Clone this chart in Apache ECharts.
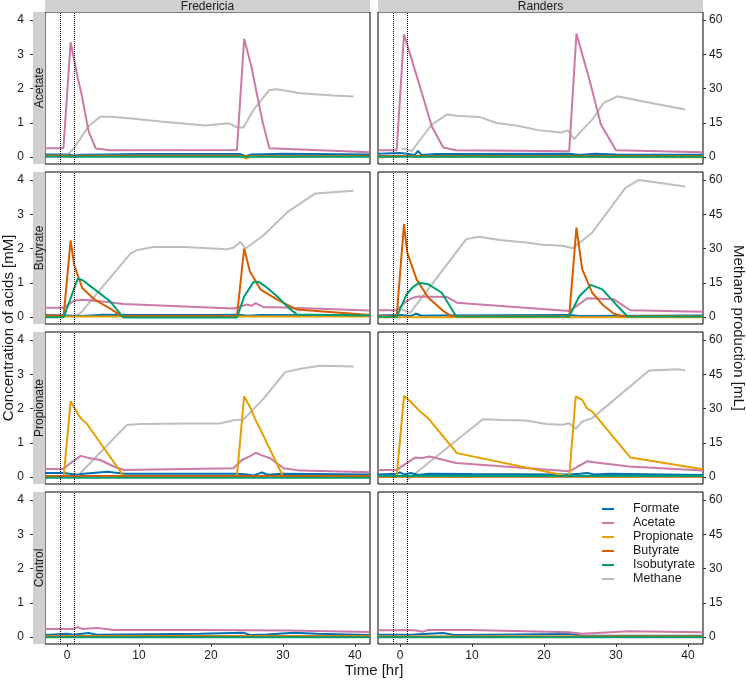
<!DOCTYPE html>
<html><head><meta charset="utf-8">
<script src="https://cdn.jsdelivr.net/npm/echarts@6/dist/echarts.min.js"></script>
<style>html,body{margin:0;padding:0;background:#fff}#c{width:746px;height:680px}</style>
</head><body><div id="c"></div><script>
// ---------- categories & ticks ----------
const sites = ['Fredericia', 'Randers'];
const treatments = ['Acetate', 'Butyrate', 'Propionate', 'Control'];
const seriesNames = ['Formate', 'Acetate', 'Propionate', 'Butyrate', 'Isobutyrate', 'Methane'];
const acidTicks = [0, 1, 2, 3, 4];
const methaneTicks = [0, 15, 30, 45, 60];
const timeTicks = [0, 10, 20, 30, 40];
const pulseTimes = [-1, 1];

// ---------- Fredericia / Acetate ----------
const FA_formate = [[-3.06,0.08],[0,0.08],[1,0.05],[2,0.07],[5,0.08],[10,0.09],[20,0.09],[24,0.09],[24.8,0.03],[25.6,0.08],[30,0.1],[42.08,0.08]];
const FA_acetate = [[-3.06,0.26],[-0.5,0.26],[0.5,3.35],[1.5,2.3],[2,1.85],[3,0.75],[4,0.25],[6,0.2],[23.6,0.21],[24.6,3.45],[25.6,2.65],[26.5,1.7],[27.2,1.0],[28.1,0.26],[42.08,0.14]];
const FA_propionate = [[-3.06,0.04],[0,0.05],[1,0.01],[2,0.04],[24,0.04],[24.9,-0.04],[25.6,0.03],[42.08,0.03]];
const FA_butyrate = [[-3.06,0.03],[10,0.03],[24,0.03],[30,0.02],[42.08,0.03]];
const FA_isobutyrate = [[-3.06,0.01],[42.08,0.01]];
const FA_methane = [[0.2,1.5],[1,3.9],[1.4,6],[3,13.5],[4.6,17.7],[6,17.7],[9.3,16.8],[13,15.6],[19.2,13.8],[22.5,14.8],[23.6,13],[24.5,13],[25.9,20.7],[28.1,29.4],[29.2,29.7],[32.4,27.9],[37,27],[39.8,26.5]];

// ---------- Randers / Acetate ----------
const RA_formate = [[-3.06,0.1],[0,0.12],[1,0.1],[2,0.06],[2.5,0.18],[3,0.06],[5,0.09],[23.5,0.1],[25,0.06],[27,0.1],[30,0.08],[42.08,0.07]];
const RA_acetate = [[-3.06,0.2],[-0.46,0.2],[0.55,3.58],[2.7,2.1],[4.4,0.9],[6,0.28],[7.8,0.2],[23.5,0.17],[24.5,3.6],[26.3,2.26],[27.9,0.95],[30,0.2],[42.08,0.14]];
const RA_propionate = [[-3.06,0.0],[0,0.01],[1,0.04],[2,0.01],[42.08,0.0]];
const RA_butyrate = [[-3.06,0.03],[42.08,0.03]];
const RA_isobutyrate = [[-3.06,0.01],[42.08,0.01]];
const RA_methane = [[0.2,3.5],[0.9,3.5],[1.6,2.5],[2.8,7.6],[4.4,14.2],[6.5,18.6],[7.8,18.1],[11,17.6],[13.4,14.9],[16.1,13.8],[19.4,11.7],[22.4,10.8],[23.3,11.7],[24.2,7.9],[24.9,10.5],[26.7,16.4],[28.3,23.7],[30.2,26.6],[33.6,24.4],[39.6,20.8]];

// ---------- Fredericia / Butyrate ----------
const FB_formate = [[-3.06,0.06],[0,0.05],[2,0.03],[5,0.07],[10,0.06],[20,0.06],[24,0.07],[25,0.04],[27,0.06],[42.08,0.05]];
const FB_acetate = [[-3.06,0.27],[-0.5,0.27],[1,0.48],[2.1,0.51],[4.6,0.46],[7.9,0.38],[23.1,0.25],[25,0.37],[25.6,0.33],[26.2,0.41],[27.3,0.29],[29,0.29],[42.08,0.19]];
const FB_propionate = [[-3.06,0.02],[20,0.02],[42.08,0.02]];
const FB_butyrate = [[-3.06,0.05],[-0.46,0.05],[0.5,2.24],[1.0,1.52],[2.1,0.85],[3.9,0.5],[6,0.25],[7.6,0.03],[23.6,0.03],[24.6,2.0],[25.4,1.33],[26.9,0.8],[29.2,0.51],[31.9,0.22],[42.08,0.06]];
const FB_isobutyrate = [[-3.06,0.0],[-0.46,0.0],[1.5,1.13],[2.3,1.06],[3.0,0.94],[4.2,0.75],[6,0.46],[7.8,-0.01],[23.6,-0.01],[24.6,0.6],[25.9,1.02],[26.6,1.03],[27.8,0.86],[29.2,0.6],[30.8,0.27],[31.9,0.08],[42.08,0.05]];
const FB_methane = [[0.2,0.5],[0.9,0],[1.9,1.9],[8.8,27.8],[9.7,29.3],[12,30.7],[16.2,30.7],[22.2,29.7],[23.1,30.3],[24.1,32.9],[24.8,30],[27.3,35.8],[30.6,45.9],[34.5,54.1],[39.8,55.2]];

// ---------- Randers / Butyrate ----------
const RB_formate = [[-3.06,0.05],[0,0.06],[1.5,0.03],[2.2,0.1],[3,0.04],[5,0.05],[23.5,0.06],[25,0.03],[42.08,0.05]];
const RB_acetate = [[-3.06,0.2],[-0.46,0.2],[0.9,0.47],[1.6,0.55],[2.5,0.6],[6.5,0.59],[7.9,0.42],[23.5,0.18],[24.7,0.35],[26,0.55],[29.7,0.52],[32,0.2],[42.08,0.16]];
const RB_propionate = [[-3.06,0.0],[42.08,0.0]];
const RB_butyrate = [[-3.06,0.03],[-0.46,0.03],[0.55,2.71],[1.0,1.88],[2.3,1.1],[3.9,0.57],[6,0.18],[7.1,0.03],[23.5,0.03],[24.5,2.61],[25.3,1.4],[26.7,0.71],[28.1,0.37],[29.7,0.1],[30.9,0.03],[42.08,0.03]];
const RB_isobutyrate = [[-3.06,0.01],[-0.46,0.01],[0.9,0.66],[1.8,0.88],[2.7,1.0],[3.9,0.96],[5.8,0.71],[7.8,0.02],[23.5,0.02],[24.9,0.61],[26.5,0.94],[28.1,0.81],[30,0.37],[31.6,0.02],[42.08,0.02]];
const RB_methane = [[0.2,3.4],[0.9,2.6],[1.4,1.9],[9.2,34.1],[11,35.1],[13.8,33.7],[17.5,32.6],[19.8,31.6],[22.6,31.2],[24,30.1],[26.7,37],[31.3,56.5],[33.2,60],[39.6,57.1]];

// ---------- Fredericia / Propionate ----------
const FP_formate = [[-3.06,0.12],[-0.5,0.12],[1.4,0.07],[2.3,0.1],[5.6,0.16],[8,0.1],[23.6,0.1],[25,0.08],[25.9,0.05],[27.1,0.14],[27.8,0.07],[29.7,0.1],[42.08,0.08]];
const FP_acetate = [[-3.06,0.24],[-0.5,0.24],[0.5,0.41],[1.9,0.62],[3.2,0.55],[4.6,0.5],[6.5,0.31],[7.9,0.21],[23.1,0.26],[24.3,0.5],[25.5,0.62],[26.2,0.71],[26.9,0.65],[28.2,0.55],[30.1,0.26],[32.4,0.19],[42.08,0.14]];
const FP_propionate = [[-3.06,0.02],[-0.46,0.02],[0.5,2.21],[1.6,1.81],[2.2,1.65],[2.7,1.57],[7.9,0.02],[23.6,0.02],[24.6,2.36],[25.4,2.05],[26.2,1.66],[26.9,1.37],[30,0.02],[42.08,0.02]];
const FP_butyrate = [[-3.06,0.03],[42.08,0.03]];
const FP_isobutyrate = [[-3.06,-0.02],[42.08,-0.02]];
const FP_methane = [[1.4,0.3],[8.3,22.8],[10.2,23.2],[16.7,23.5],[21.3,23.5],[23.1,24.9],[24.5,25.2],[27.3,34.3],[30.3,45.9],[32.4,47.4],[35.2,48.7],[39.8,48.4]];

// ---------- Randers / Propionate ----------
const RP_formate = [[-3.06,0.08],[-0.5,0.1],[0,0.14],[0.5,0.08],[1.5,0.12],[2.5,0.06],[4,0.1],[10,0.09],[23.5,0.08],[25,0.1],[26,0.12],[27,0.08],[29,0.1],[42.08,0.06]];
const RP_acetate = [[-3.06,0.21],[-0.46,0.21],[0.9,0.41],[2.1,0.57],[3,0.55],[4.1,0.6],[7.8,0.41],[23.5,0.17],[24.7,0.31],[26,0.46],[27.2,0.43],[31.8,0.31],[42.08,0.19]];
const RP_propionate = [[-3.06,0.02],[-0.46,0.02],[0.55,2.37],[1.6,2.17],[2.8,1.91],[3.9,1.72],[7.9,0.7],[23.5,0.02],[24.4,2.35],[25.3,2.25],[26,2.0],[26.7,1.91],[32,0.57],[42.08,0.23]];
const RP_butyrate = [[-3.06,0.01],[42.08,0.01]];
const RP_isobutyrate = [[-3.06,0.03],[42.08,0.03]];
const RP_methane = [[0.9,-1.5],[11.5,25.3],[14.3,25],[17.5,24.8],[20.3,23.2],[22.6,22.9],[23.5,23.6],[24.4,21.1],[25.3,24.3],[26.7,25.8],[34.6,46.6],[38.7,47.2],[39.6,46.6]];

// ---------- Fredericia / Control ----------
const FC_formate = [[-3.06,0.06],[0,0.1],[0.9,0.07],[3,0.12],[4.2,0.07],[18.5,0.1],[24.5,0.13],[25.5,0.06],[27.8,0.08],[31.5,0.13],[34.7,0.1],[42.08,0.06]];
const FC_acetate = [[-3.06,0.24],[0.9,0.24],[1.5,0.29],[2.1,0.24],[4.2,0.27],[6.5,0.21],[18.5,0.21],[30.6,0.19],[42.08,0.15]];
const FC_propionate = [[-3.06,0.03],[42.08,0.03]];
const FC_butyrate = [[-3.06,0.02],[42.08,0.02]];
const FC_isobutyrate = [[-3.06,0.0],[42.08,0.0]];
const FC_methane = [];

// ---------- Randers / Control ----------
const RC_formate = [[-3.06,0.07],[2,0.08],[6,0.12],[7.5,0.06],[23.5,0.09],[25.3,0.04],[42.08,0.04]];
const RC_acetate = [[-3.06,0.2],[-0.46,0.2],[0.5,0.21],[2,0.2],[3.2,0.16],[3.9,0.21],[9.7,0.21],[23.5,0.14],[25.3,0.1],[31.8,0.17],[42.08,0.14]];
const RC_propionate = [[-3.06,0.02],[42.08,0.02]];
const RC_butyrate = [[-3.06,0.01],[42.08,0.01]];
const RC_isobutyrate = [[-3.06,0.0],[42.08,0.0]];
const RC_methane = [];

// ---------- assemble ----------
const panelData = {
  Acetate:    [[FA_formate,FA_acetate,FA_propionate,FA_butyrate,FA_isobutyrate,FA_methane],[RA_formate,RA_acetate,RA_propionate,RA_butyrate,RA_isobutyrate,RA_methane]],
  Butyrate:   [[FB_formate,FB_acetate,FB_propionate,FB_butyrate,FB_isobutyrate,FB_methane],[RB_formate,RB_acetate,RB_propionate,RB_butyrate,RB_isobutyrate,RB_methane]],
  Propionate: [[FP_formate,FP_acetate,FP_propionate,FP_butyrate,FP_isobutyrate,FP_methane],[RP_formate,RP_acetate,RP_propionate,RP_butyrate,RP_isobutyrate,RP_methane]],
  Control:    [[FC_formate,FC_acetate,FC_propionate,FC_butyrate,FC_isobutyrate,FC_methane],[RC_formate,RC_acetate,RC_propionate,RC_butyrate,RC_isobutyrate,RC_methane]]
};
const colors = {Formate:'#0072B2', Acetate:'#CC79A7', Propionate:'#E69F00', Butyrate:'#D55E00', Isobutyrate:'#009E73', Methane:'#BEBEBE'};

const FONT = '"Liberation Sans", Arial, Helvetica, sans-serif';
const TXT = '#1a1a1a';
const TICK = '#333';
const colLeft = [45, 378], colW = 325;
const rowTop = [12, 172, 332, 492], rowH = 152;
const X_MIN = -3.06, X_MAX = 42.08;
const Y_MIN = -0.2, Y_MAX = 4.23, RATIO = 15;

const grids = [], xAxes = [], yAxes = [], series = [], graphics = [];
const hiddenAxis = () => ({splitLine: {show: false}, axisLine: {show: false, onZero: false}, axisTick: {show: false}, axisLabel: {show: false}});
treatments.forEach((tr, r) => {
  sites.forEach((site, c) => {
    const gi = grids.length;
    grids.push({left: colLeft[c], top: rowTop[r], width: colW, height: rowH, show: true,
      borderColor: '#000', borderWidth: 1, backgroundColor: '#fff'});
    const bottom = r === treatments.length - 1;
    xAxes.push({type: 'value', gridIndex: gi, position: 'bottom', min: X_MIN, max: X_MAX,
      splitLine: {show: false}, axisLine: {show: false, onZero: false},
      axisTick: {show: bottom, length: 3, customValues: timeTicks, lineStyle: {color: TICK}},
      axisLabel: {show: bottom, customValues: timeTicks, margin: 6, fontSize: 12, color: TXT, fontFamily: FONT}});
    // acid axis (scale for acids; labels drawn by the outer tick axis)
    yAxes.push(Object.assign({type: 'value', gridIndex: gi, position: 'left', min: Y_MIN, max: Y_MAX}, hiddenAxis()));
    // methane axis (right)
    yAxes.push({type: 'value', gridIndex: gi, position: 'right', offset: 0, min: Y_MIN * RATIO, max: Y_MAX * RATIO,
      splitLine: {show: false}, axisLine: {show: false, onZero: false},
      axisTick: {show: c === 1, length: 3, customValues: methaneTicks, lineStyle: {color: TICK}},
      axisLabel: {show: c === 1, customValues: methaneTicks, margin: 6, fontSize: 12, color: TXT, fontFamily: FONT}});
    const d = panelData[tr][c];
    const order = [5, 0, 1, 2, 3, 4];
    order.forEach((k, idx) => {
      const name = seriesNames[k];
      const s = {type: 'line', name, xAxisIndex: gi, yAxisIndex: k === 5 ? 2 * gi + 1 : 2 * gi,
        data: d[k], showSymbol: false, symbol: 'none', animation: false, silent: true,
        lineStyle: {color: colors[name], width: 2}, itemStyle: {color: colors[name]}, z: 2 + idx};
      if (idx === 1) {
        s.markLine = {silent: true, symbol: 'none', label: {show: false}, animation: false,
          lineStyle: {type: 'dotted', color: '#000', width: 1}, z: 10,
          data: pulseTimes.map(t => ({xAxis: t}))};
      }
      series.push(s);
    });
    if (r === 0) {
      graphics.push({type: 'rect', shape: {x: colLeft[c], y: 0, width: colW, height: 12}, style: {fill: '#d0d0d0'}, silent: true});
      graphics.push({type: 'text', x: colLeft[c] + colW / 2, y: 6.5, silent: true,
        style: {text: site, fontSize: 12, fontFamily: FONT, fill: TXT, align: 'center', verticalAlign: 'middle'}});
    }
    if (c === 0) {
      graphics.push({type: 'rect', shape: {x: 33, y: rowTop[r], width: 12, height: rowH}, style: {fill: '#d0d0d0'}, silent: true});
      graphics.push({type: 'text', x: 39.5, y: rowTop[r] + rowH / 2, rotation: Math.PI / 2, silent: true,
        style: {text: tr, fontSize: 12, fontFamily: FONT, fill: TXT, align: 'center', verticalAlign: 'middle'}});
    }
  });
});
// outer acid tick axes (left of the row strips), one per row
treatments.forEach((tr, r) => {
  const gi = grids.length;
  grids.push({left: 33, top: rowTop[r], width: 12, height: rowH, show: false});
  xAxes.push(Object.assign({type: 'value', gridIndex: gi, min: 0, max: 1}, hiddenAxis()));
  yAxes.push({type: 'value', gridIndex: gi, position: 'left', min: Y_MIN, max: Y_MAX,
    splitLine: {show: false}, axisLine: {show: false, onZero: false},
    axisTick: {show: true, length: 3, customValues: acidTicks, lineStyle: {color: TICK}},
    axisLabel: {show: true, customValues: acidTicks, margin: 9, fontSize: 12, color: TXT, fontFamily: FONT}});
});
graphics.push({type: 'text', x: 9, y: 328, rotation: Math.PI / 2, silent: true,
  style: {text: 'Concentration of acids [mM]', fontSize: 15, fontFamily: FONT, fill: TXT, align: 'center', verticalAlign: 'middle'}});
graphics.push({type: 'text', x: 738, y: 328, rotation: -Math.PI / 2, silent: true,
  style: {text: 'Methane production [mL]', fontSize: 15, fontFamily: FONT, fill: TXT, align: 'center', verticalAlign: 'middle'}});
graphics.push({type: 'text', x: 374, y: 671, silent: true,
  style: {text: 'Time [hr]', fontSize: 15, fontFamily: FONT, fill: TXT, align: 'center', verticalAlign: 'middle'}});

const chart = echarts.init(document.getElementById('c'), null, {renderer: 'canvas'});
chart.setOption({
  animation: false,
  backgroundColor: '#fff',
  grid: grids, xAxis: xAxes, yAxis: yAxes, series,
  legend: {data: seriesNames, orient: 'vertical', left: 597, top: 497, itemGap: 0,
    itemWidth: 12, itemHeight: 2, icon: 'rect', selectedMode: false,
    textStyle: {fontSize: 12.5, fontFamily: FONT, color: TXT, lineHeight: 14, padding: [0, 0, 0, 14]}},
  graphic: graphics
});
</script></body></html>
